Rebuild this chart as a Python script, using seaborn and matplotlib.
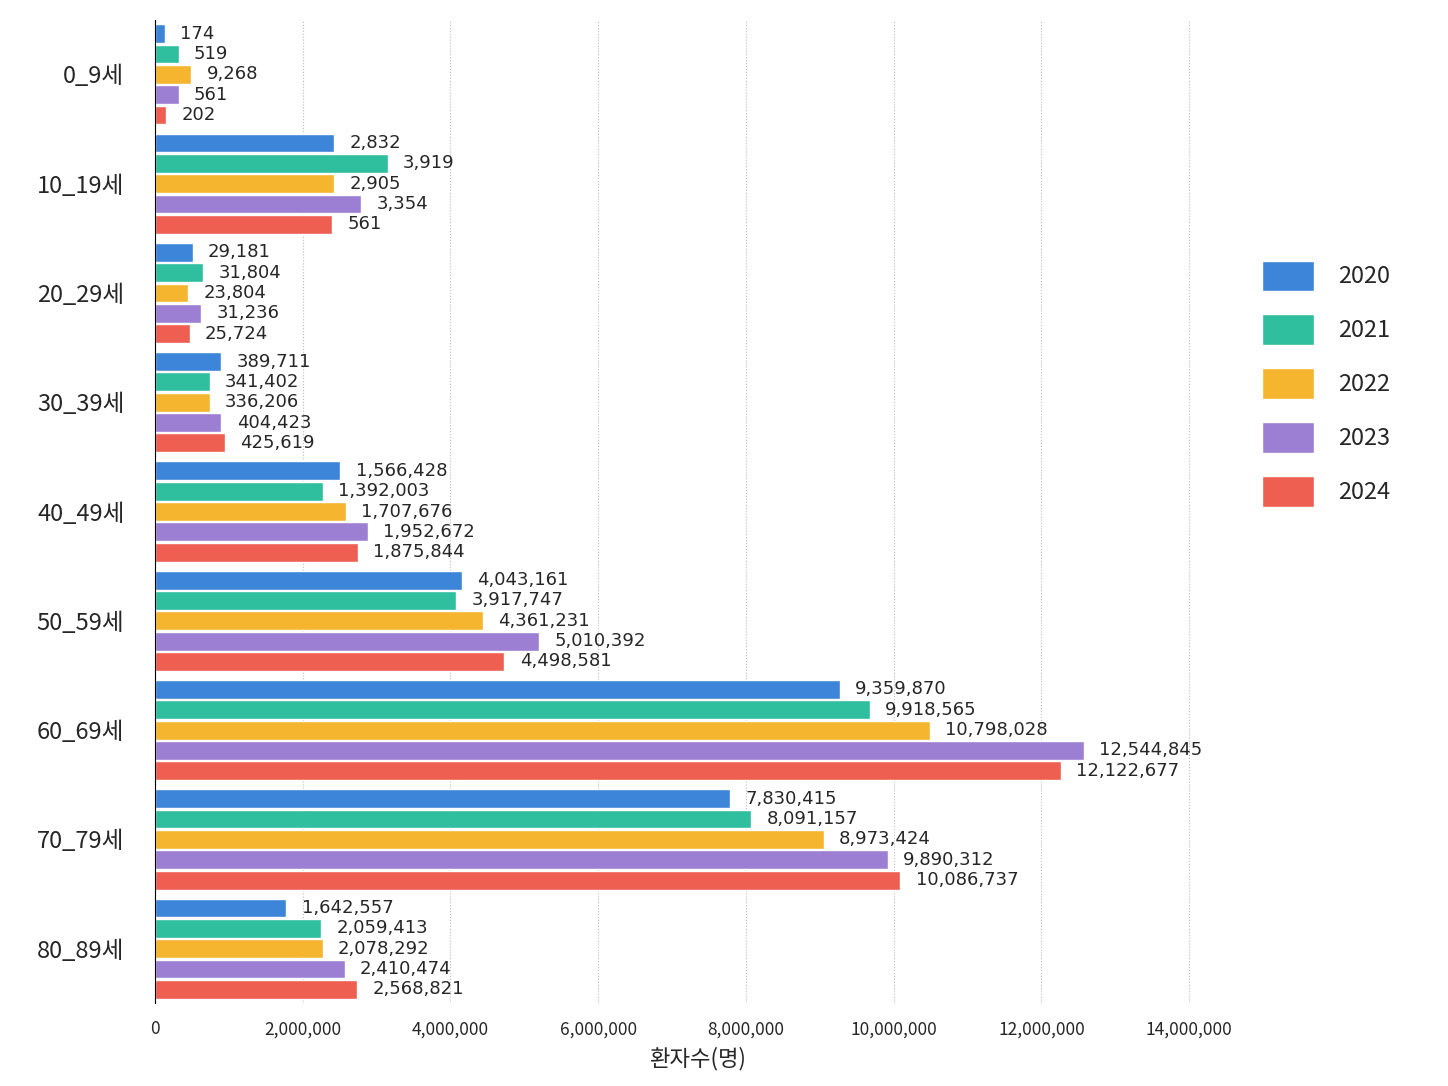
import pandas as pd
import numpy as np
import matplotlib.pyplot as plt
import seaborn as sns

ages = ['0_9세', '10_19세', '20_29세', '30_39세', '40_49세', '50_59세', '60_69세', '70_79세', '80_89세']
years = ['2020', '2021', '2022', '2023', '2024']
colors = ['#3d85d8', '#2fbf9e', '#f5b52e', '#9c7fd3', '#ee5f52']

# numbers printed next to the bars
labels = {
    '2020': [174, 2832, 29181, 389711, 1566428, 4043161, 9359870, 7830415, 1642557],
    '2021': [519, 3919, 31804, 341402, 1392003, 3917747, 9918565, 8091157, 2059413],
    '2022': [9268, 2905, 23804, 336206, 1707676, 4361231, 10798028, 8973424, 2078292],
    '2023': [561, 3354, 31236, 404423, 1952672, 5010392, 12544845, 9890312, 2410474],
    '2024': [202, 561, 25724, 425619, 1875844, 4498581, 12122677, 10086737, 2568821],
}
# bar lengths as drawn in the picture (they do not follow the printed numbers)
lengths = {
    '2020': [135000, 2430000, 510000, 900000, 2510000, 4160000, 9270000, 7790000, 1780000],
    '2021': [320000, 3150000, 650000, 740000, 2270000, 4080000, 9680000, 8070000, 2250000],
    '2022': [490000, 2430000, 450000, 740000, 2580000, 4440000, 10490000, 9050000, 2270000],
    '2023': [320000, 2790000, 630000, 900000, 2880000, 5200000, 12570000, 9920000, 2570000],
    '2024': [150000, 2400000, 470000, 950000, 2750000, 4730000, 12260000, 10090000, 2740000],
}

rows = []
for y in years:
    for a, v, l in zip(ages, lengths[y], labels[y]):
        rows.append({'age': a, 'year': y, 'length': v, 'label': l})
df = pd.DataFrame(rows)

sns.set_style('white')
plt.rcParams['font.family'] = ['Noto Sans CJK KR', 'DejaVu Sans']

fig = plt.figure(figsize=(14.48, 10.86), dpi=100)
ax = fig.add_axes([0.107, 0.076, 0.75, 0.906])
sns.barplot(data=df, y='age', x='length', hue='year', palette=colors, saturation=1,
            orient='h', width=0.93, gap=0.08, ax=ax)

for c, y in zip(ax.containers, years):
    ax.bar_label(c, labels=[f'{v:,}' for v in labels[y]], padding=11, fontsize=13,
                 family=['DejaVu Sans'])

ax.set_xlim(0, 14700000)
ax.set_xticks(np.arange(0, 14000001, 2000000))
ax.set_xticklabels([f'{int(t):,}' for t in np.arange(0, 14000001, 2000000)], fontsize=12.5)
ax.tick_params(axis='y', labelsize=17, length=0, pad=22)
ax.tick_params(axis='x', length=0, pad=12)
ax.set_ylabel('')
ax.set_xlabel('환자수(명)', fontsize=16, labelpad=6)
ax.xaxis.grid(True, linestyle=':', color='#bbbbbb')
ax.set_axisbelow(True)
for s in ['top', 'right', 'bottom']:
    ax.spines[s].set_visible(False)
ax.spines['left'].set_color('black')

ax.legend(title=None, loc='center left', bbox_to_anchor=(1.0, 0.63), frameon=False,
          fontsize=17, handlelength=2.2, handleheight=1.6, labelspacing=1.0, handletextpad=1.0)

fig.savefig('out.png', dpi=100)
